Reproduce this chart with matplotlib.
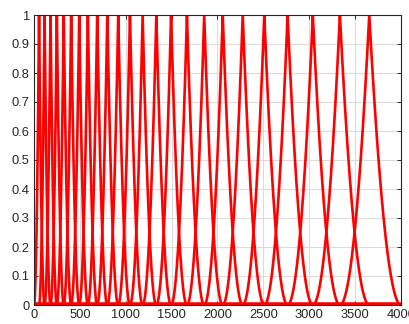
import matplotlib.pyplot as plt
import numpy as np

# filter edge frequencies (Hz): each filter rises from
# edges[i], peaks at edges[i+1] and falls back to zero at edges[i+2]
edges = [0, 55, 115, 180, 249, 324, 405, 493, 587, 689, 799, 918, 1046,
         1184, 1333, 1494, 1667, 1855, 2057, 2275, 2510, 2764, 3039, 3334,
         3654, 4000]
xticks = [0, 500, 1000, 1500, 2000, 2500, 3000, 3500, 4000]
yticks = [0, 0.1, 0.2, 0.3, 0.4, 0.5, 0.6, 0.7, 0.8, 0.9, 1]

plt.rcParams['font.family'] = ['Liberation Sans', 'DejaVu Sans']

fig = plt.figure(figsize=(4.10, 3.24), dpi=100)
ax = fig.add_axes([34 / 410, 1 - 305 / 324, 367 / 410, 290 / 324])

freq = np.linspace(0, 4000, 4001)
for i in range(len(edges) - 2):
    lo, mid, hi = edges[i], edges[i + 1], edges[i + 2]
    up = (freq - lo) / (mid - lo)
    down = (hi - freq) / (hi - mid)
    # squared triangular response
    w = np.clip(np.minimum(up, down), 0, None) ** 2
    ax.plot(freq, w, color='red', lw=1.9)

# zero baseline looks heavier in the original
ax.plot([0, 4000], [0, 0], color='red', lw=4)

ax.set_xlim(0, 4000)
ax.set_ylim(0, 1)
ax.set_xticks(xticks)
ax.set_yticks(yticks)
ax.set_yticklabels(['0', '0.1', '0.2', '0.3', '0.4', '0.5', '0.6', '0.7',
                    '0.8', '0.9', '1'])
ax.grid(True, color='#dcdcdc', lw=0.8)
ax.set_axisbelow(True)
ax.tick_params(direction='in', length=3, width=0.7, labelsize=9.3,
               colors='#262626', top=True, right=True, pad=3)
for s in ax.spines.values():
    s.set_color('#262626')
    s.set_linewidth(0.8)

fig.savefig('out.png', dpi=100)
